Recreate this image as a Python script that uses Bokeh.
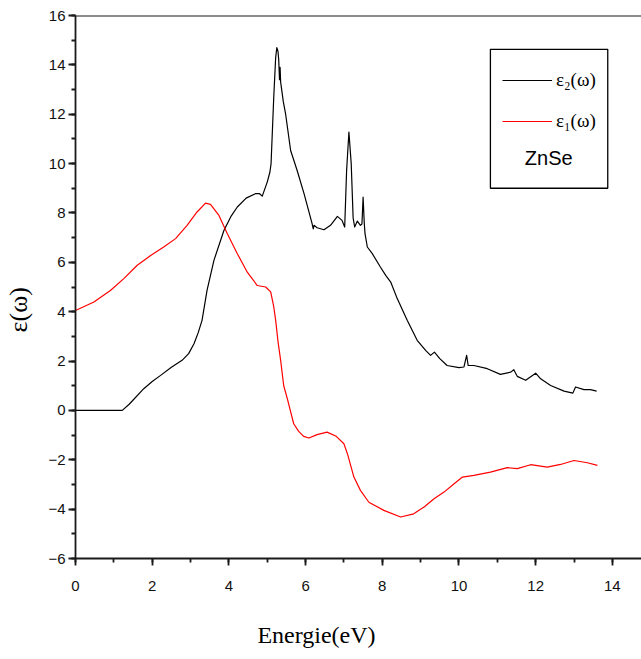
from bokeh.plotting import figure
from bokeh.models import (Range1d, SingleIntervalTicker, Span, Label, Legend, LegendItem,
                          BoxAnnotation)
from bokeh.embed import file_html
from bokeh.resources import INLINE

# ---- data ----
e2_x = [0, 0.5, 1.0, 1.22, 1.4, 1.78, 2.0, 2.22, 2.5, 2.78, 2.95, 3.09, 3.2, 3.30, 3.43, 3.61,
        3.87, 4.05, 4.22, 4.45, 4.69, 4.8, 4.87, 5.0, 5.07, 5.10, 5.17, 5.22, 5.25, 5.28, 5.30,
        5.32, 5.335, 5.35, 5.42, 5.48, 5.61, 5.78, 5.96, 6.17, 6.20, 6.22, 6.3, 6.48, 6.65, 6.83,
        6.95, 7.02, 7.07, 7.13, 7.19, 7.24, 7.28, 7.35, 7.43, 7.47, 7.50, 7.53, 7.55, 7.61, 7.74,
        7.95, 8.09, 8.22, 8.39, 8.65, 8.91, 9.13, 9.26, 9.36, 9.5, 9.69, 10.0, 10.13, 10.2, 10.24,
        10.39, 10.74, 11.08, 11.35, 11.43, 11.52, 11.74, 12.0, 12.13, 12.39, 12.74, 12.97, 13.04,
        13.26, 13.43, 13.59]
e2_y = [0, 0, 0, 0, 0.25, 0.88, 1.17, 1.42, 1.75, 2.03, 2.3, 2.7, 3.15, 3.65, 4.86, 6.08,
        7.29, 7.85, 8.24, 8.6, 8.78, 8.78, 8.68, 9.25, 9.66, 10.0, 12.7, 14.3, 14.7, 14.55, 14.2,
        13.4, 13.9, 13.3, 12.5, 12.0, 10.53, 9.72, 8.78, 7.57, 7.35, 7.5, 7.4, 7.32, 7.5, 7.86,
        7.7, 7.43, 9.72, 11.28, 10.0, 7.8, 7.43, 7.67, 7.5, 7.55, 8.64, 7.6, 7.16, 6.62, 6.35,
        5.81, 5.47, 5.20, 4.53, 3.65, 2.84, 2.43, 2.23, 2.36, 2.1, 1.82, 1.73, 1.76, 2.23, 1.82,
        1.82, 1.69, 1.46, 1.55, 1.65, 1.38, 1.22, 1.51, 1.28, 1.01, 0.78, 0.70, 0.95,
        0.84, 0.84, 0.78]

e1_x = [0, 0.48, 0.91, 1.26, 1.61, 1.96, 2.30, 2.61, 2.91, 3.17, 3.39, 3.52, 3.74, 3.96, 4.22,
        4.48, 4.74, 4.96, 5.09, 5.17, 5.22, 5.28, 5.35, 5.43, 5.52, 5.69, 5.82, 5.95, 6.09, 6.3,
        6.56, 6.8, 7.0, 7.1, 7.26, 7.43, 7.65, 8.04, 8.48, 8.82, 9.1, 9.35, 9.61, 9.85, 10.09,
        10.39, 10.82, 11.26, 11.52, 11.87, 12.30, 12.65, 13.0, 13.35, 13.61]
e1_y = [4.05, 4.39, 4.86, 5.34, 5.88, 6.28, 6.62, 6.96, 7.50, 8.04, 8.40, 8.35, 7.90, 7.16, 6.35,
        5.60, 5.06, 5.0, 4.8, 4.2, 3.65, 2.8, 2.03, 1.0, 0.5, -0.54, -0.85, -1.05, -1.12, -0.98,
        -0.88, -1.05, -1.35, -1.8, -2.70, -3.24, -3.72, -4.05, -4.32, -4.19, -3.9, -3.58, -3.31,
        -3.0, -2.70, -2.63, -2.50, -2.32, -2.36, -2.20, -2.30, -2.19, -2.03, -2.12, -2.23]

x_label = "Energie(eV)"
y_label = "ε(ω)"
e2_name = "ε₂(ω)"
e1_name = "ε₁(ω)"
material = "ZnSe"

X_MIN, X_MAX = 0, 14.76
Y_MIN, Y_MAX = -6, 16
NBSP = "\u00a0"

p = figure(width=641, height=659, output_backend="svg", toolbar_location=None,
           x_range=Range1d(X_MIN, X_MAX), y_range=Range1d(Y_MIN, Y_MAX),
           min_border_left=75, min_border_right=0, min_border_top=15, min_border_bottom=101)
p.outline_line_color = None
p.grid.visible = False
p.background_fill_color = "white"
p.border_fill_color = "white"

for ax in (p.xaxis[0], p.yaxis[0]):
    ax.ticker = SingleIntervalTicker(interval=2, num_minor_ticks=2)
    ax.axis_line_color = "#1a1a1a"
    ax.axis_line_width = 1.8
    ax.major_tick_line_color = "#1a1a1a"
    ax.major_tick_line_width = 1.8
    ax.minor_tick_line_color = "#1a1a1a"
    ax.minor_tick_line_width = 1.8
    ax.major_tick_out = 7
    ax.major_tick_in = 0
    ax.minor_tick_out = 4
    ax.minor_tick_in = 0
    ax.major_label_text_font = "Liberation Sans"
    ax.major_label_text_font_size = "15px"
    ax.major_label_text_color = "#111111"
    ax.axis_label_text_font = "Liberation Serif"
    ax.axis_label_text_font_style = "normal"
    ax.axis_label_text_color = "black"
p.xaxis[0].major_label_standoff = 15
p.yaxis[0].major_label_standoff = 3

# axis titles (trailing no-break spaces shift them off-centre like the reference)
p.xaxis[0].axis_label = x_label + NBSP * 14
p.xaxis[0].axis_label_text_font_size = "24px"
p.xaxis[0].axis_label_standoff = 28
p.yaxis[0].axis_label = y_label + NBSP * 7
p.yaxis[0].axis_label_text_font_size = "26px"
p.yaxis[0].axis_label_standoff = 12

# top frame line
p.add_layout(Span(location=Y_MAX, dimension="width", line_color="#1a1a1a", line_width=1.8))

r2 = p.line(e2_x, e2_y, line_color="black", line_width=1.2, line_join="round")
r1 = p.line(e1_x, e1_y, line_color="red", line_width=1.2, line_join="round")

# legend box
p.add_layout(BoxAnnotation(left=10.82, right=13.88, top=14.63, bottom=9.0,
                           fill_alpha=0, line_color="black", line_alpha=1, line_width=1.3))
legend = Legend(items=[LegendItem(label=e2_name, renderers=[r2]),
                       LegendItem(label=e1_name, renderers=[r1])],
                location=(427, 426), glyph_width=50, glyph_height=20, label_height=20,
                label_standoff=4, spacing=19, padding=0, margin=0,
                border_line_color=None, background_fill_alpha=0,
                label_text_font="Liberation Serif", label_text_font_size="19px",
                label_text_color="black")
p.add_layout(legend)
p.add_layout(Label(x=12.34, y=10.21, text=material, text_font="Liberation Sans",
                   text_font_size="20px", text_align="center", text_baseline="middle",
                   text_color="black"))

open("out.html", "w").write(file_html(p, INLINE))
